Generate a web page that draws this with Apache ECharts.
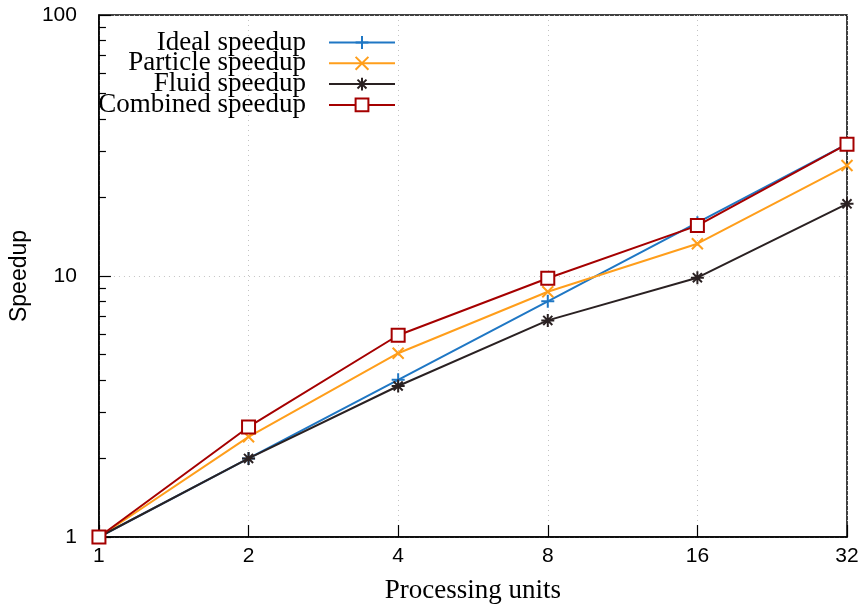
<!DOCTYPE html>
<html>
<head>
<meta charset="utf-8">
<script src="https://cdn.jsdelivr.net/npm/echarts@6/dist/echarts.min.js"></script>
<style>
  html, body { margin: 0; padding: 0; background: #fff; }
  #chart { width: 862px; height: 610px; }
</style>
</head>
<body>
<div id="chart"></div>
<script>
// Processing units (log2 x axis)
const units = [1, 2, 4, 8, 16, 32];

// Measured speedups
const idealSpeedup    = [1, 2, 4, 8, 16, 32];
const particleSpeedup = [1, 2.42, 5.06, 8.70, 13.3, 26.5];
const fluidSpeedup    = [1, 2.0, 3.79, 6.76, 9.85, 18.9];
const combinedSpeedup = [1, 2.64, 5.93, 9.80, 15.6, 32.0];

const seriesNames = ['Ideal speedup', 'Particle speedup', 'Fluid speedup', 'Combined speedup'];
const seriesColors = ['#1f77c4', '#ff9e1b', '#2a2122', '#a50000'];

// Minor ticks of the log speedup axis
const yMinorTicks = [2, 3, 4, 5, 6, 7, 8, 9, 20, 30, 40, 50, 60, 70, 80, 90];

const SERIF = '"Liberation Serif", "DejaVu Serif", serif';
const SANS = '"Liberation Sans", "DejaVu Sans", sans-serif';

const symbols = [
  'path://M0 5L10 5M5 0L5 10',                                 // plus
  'path://M0 0L10 10M10 0L0 10',                               // cross
  'path://M0 5L10 5M5 0L5 10M1.5 1.5L8.5 8.5M8.5 1.5L1.5 8.5', // asterisk
  'emptyRect'                                                  // open square
];
const symbolSizes = [13, 11, 13, 13];

const values = [idealSpeedup, particleSpeedup, fluidSpeedup, combinedSpeedup];

const chart = echarts.init(document.getElementById('chart'), null, { renderer: 'canvas' });

const series = seriesNames.map((name, i) => ({
  name: name,
  type: 'line',
  xAxisIndex: 0,
  yAxisIndex: 0,
  data: units.map((u, k) => [u, values[i][k]]),
  symbol: symbols[i],
  symbolSize: symbolSizes[i],
  showAllSymbol: true,
  lineStyle: { color: seriesColors[i], width: 2 },
  itemStyle: {
    color: seriesColors[i],
    borderColor: seriesColors[i],
    borderWidth: 2
  },
  emphasis: { disabled: true },
  z: 3 + i,
  animation: false
}));

const legends = seriesNames.map((name, i) => ({
  data: [name],
  orient: 'vertical',
  right: 466,
  top: 29 + i * 20.8,
  align: 'right',
  padding: 0,
  itemWidth: 66,
  itemHeight: 16,
  selectedMode: false,
  itemStyle: { borderWidth: 2 },
  lineStyle: { width: 2 },
  textStyle: {
    fontFamily: SERIF,
    fontSize: 27,
    lineHeight: 21,
    color: '#000',
    padding: [0, 18, 0, 0]
  }
}));

chart.setOption({
  animation: false,
  backgroundColor: '#fff',
  grid: {
    left: 97, right: 15, top: 15, bottom: 73,
    show: true, borderColor: '#000', borderWidth: 1.5,
    containLabel: false
  },
  legend: legends,
  xAxis: [{
    type: 'log',
    logBase: 2,
    min: 1,
    max: 32,
    name: 'Processing units',
    nameLocation: 'middle',
    nameGap: 40,
    nameTextStyle: { fontFamily: SERIF, fontSize: 27, color: '#000' },
    axisLine: { show: true, onZero: false, lineStyle: { color: '#000', width: 1.5 } },
    axisTick: { show: true, inside: true, length: 12, lineStyle: { color: '#000', width: 1.2 } },
    axisLabel: {
      fontFamily: SANS, fontSize: 21, color: '#000', margin: 9,
      formatter: v => String(Math.round(v))
    },
    splitLine: { show: true, lineStyle: { color: '#c4c4c4', type: [1, 4], width: 1 } },
    minorTick: { show: false }
  }],
  yAxis: [{
    type: 'log',
    logBase: 10,
    min: 1,
    max: 100,
    name: 'Speedup',
    nameLocation: 'middle',
    nameGap: 64,
    nameTextStyle: { fontFamily: SANS, fontSize: 23, color: '#000' },
    axisLine: { show: true, onZero: false, lineStyle: { color: '#000', width: 1.5 } },
    axisTick: { show: true, inside: true, length: 12, lineStyle: { color: '#000', width: 1.2 } },
    axisLabel: {
      fontFamily: SANS, fontSize: 21, color: '#000', margin: 22,
      formatter: v => String(Math.round(v))
    },
    splitLine: { show: true, lineStyle: { color: '#c4c4c4', type: [1, 4], width: 1 } }
  }, {
    // companion axis carrying the 2..9 minor ticks of each decade
    type: 'log',
    logBase: 10,
    min: 1,
    max: 100,
    position: 'left',
    axisLine: { show: false },
    axisTick: {
      show: true, inside: true, length: 7,
      customValues: yMinorTicks,
      lineStyle: { color: '#000', width: 1.2 }
    },
    axisLabel: { show: false },
    splitLine: { show: false }
  }],
  series: series
});
</script>
</body>
</html>
